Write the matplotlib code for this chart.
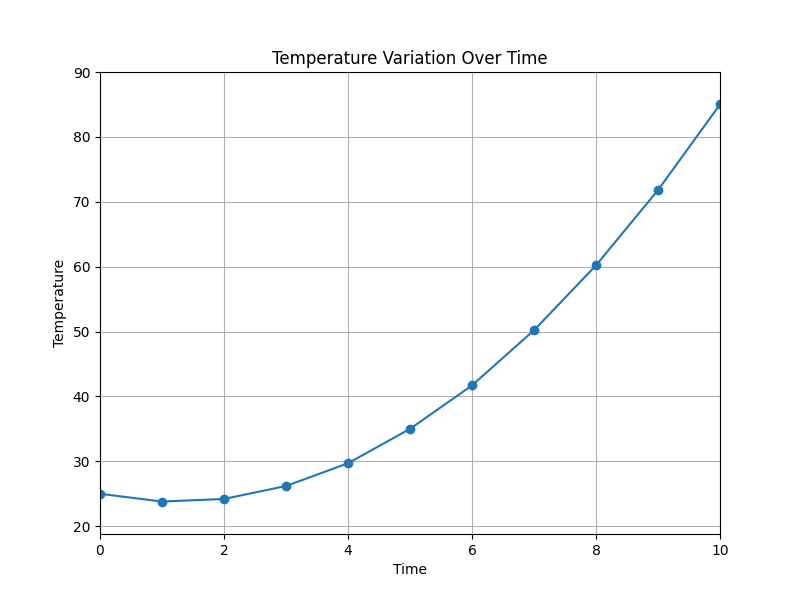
import matplotlib
matplotlib.use('Agg')
import matplotlib.pyplot as plt

# 読み取った値
time = [0, 1, 2, 3, 4, 5, 6, 7, 8, 9, 10]
temperature = [25.0, 23.8, 24.2, 26.2, 29.7, 35.0, 41.7, 50.2, 60.2, 71.8, 85.0]

fig, ax = plt.subplots(figsize=(8, 6), dpi=100)
ax.plot(time, temperature, marker='o')
ax.set_title('Temperature Variation Over Time')
ax.set_xlabel('Time')
ax.set_ylabel('Temperature')
ax.set_xlim(0, 10)
ax.set_ylim(min(temperature) - 5, max(temperature) + 5)
ax.grid(True)
fig.savefig('out.png')
